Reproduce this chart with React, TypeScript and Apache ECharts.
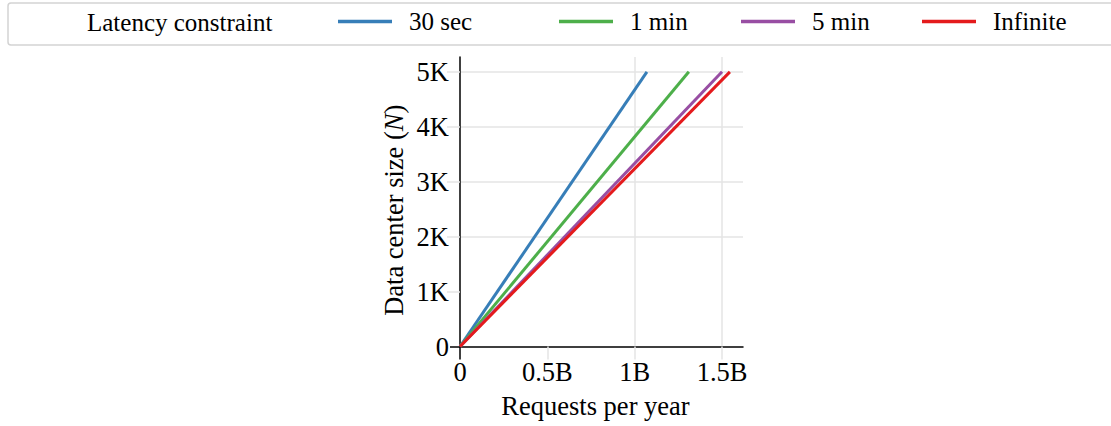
import React, { useEffect, useRef } from "react";
import * as echarts from "echarts";

const seriesNames = ["30 sec", "1 min", "5 min", "Infinite"];
const seriesColors = ["#377eb8", "#4daf4a", "#984ea3", "#e41a1c"];
// [requests per year, data center size N]
const line30sec = [[0, 0], [1.07e9, 5000]];
const line1min = [[0, 0], [1.31e9, 5000]];
const line5min = [[0, 0], [1.5e9, 5000]];
const lineInfinite = [[0, 0], [1.545e9, 5000]];
const xTicks = [0, 0.5e9, 1e9, 1.5e9];
const yTicks = [0, 1000, 2000, 3000, 4000, 5000];
const xMax = 1.62e9;
const yMax = 5270;
const legendTitle = "Latency constraint";

const FONT = "'Liberation Serif', 'Times New Roman', serif";
const LFONT = "serif";
const AX = 26.5;
const LG = 25;

export default function App() {
  const ref = useRef<HTMLDivElement>(null);
  useEffect(() => {
    document.body.style.margin = "0";
    const chart = echarts.init(ref.current!, null, { renderer: "svg" });
    const data = [line30sec, line1min, line5min, lineInfinite];
    const legendLeft = [338, 559, 741, 922];
    const fmtX = (v: number) => (v === 0 ? "0" : v / 1e9 + "B");
    const fmtY = (v: number) => (v === 0 ? "0" : v / 1000 + "K");
    const grey = "#e5e5e5";
    chart.setOption({
      animation: false,
      grid: { left: 460, top: 57, width: 283, height: 289.5, containLabel: false },
      title: {
        text: legendTitle,
        left: 7.5,
        top: 3,
        padding: [7, 855, 10.5, 79.5],
        borderColor: "#d3d3d3",
        borderWidth: 1.5,
        borderRadius: 3,
        textStyle: { fontFamily: LFONT, fontSize: LG, fontWeight: "normal", color: "#000" },
      },
      legend: seriesNames.map((n, i) => ({
        data: [n],
        left: legendLeft[i],
        top: 9,
        padding: 0,
        icon: "rect",
        itemWidth: 54,
        itemHeight: 3.5,
        selectedMode: false,
        z: 10,
        textStyle: { fontFamily: LFONT, fontSize: LG, color: "#000", padding: [0, 0, 0, 12] },
      })),
      xAxis: [
        {
          type: "value",
          min: 0,
          max: xMax,
          interval: 0.5e9,
          name: "Requests per year",
          nameLocation: "middle",
          nameGap: 46,
          nameTextStyle: { fontFamily: FONT, fontSize: AX, color: "#000", padding: [0, 12, 0, 0] },
          axisLine: { onZero: false, lineStyle: { color: "#000", width: 1.5 } },
          axisTick: { show: true, customValues: xTicks.slice(1), length: 13, lineStyle: { color: grey, width: 1.5 } },
          axisLabel: { customValues: xTicks, formatter: fmtX, margin: 12, fontFamily: FONT, fontSize: AX, color: "#000" },
          splitLine: { show: true, showMinLine: false, lineStyle: { color: grey, width: 1.5 } },
        },
        {
          type: "value",
          min: 0,
          max: xMax,
          position: "bottom",
          axisLine: { show: false, onZero: false },
          axisTick: { show: true, customValues: [0], length: 13, lineStyle: { color: "#000", width: 1.5 } },
          axisLabel: { show: false },
          splitLine: { show: false },
        },
      ],
      yAxis: [
        {
          type: "value",
          min: 0,
          max: yMax,
          interval: 1000,
          name: "Data center size ({i|N})",
          nameLocation: "middle",
          nameGap: 53,
          nameRotate: 90,
          nameTextStyle: {
            fontFamily: FONT,
            fontSize: AX,
            color: "#000",
            padding: [0, 17, 0, 0],
            rich: { i: { fontFamily: FONT, fontSize: AX, fontStyle: "italic", color: "#000" } },
          },
          axisLine: { onZero: false, lineStyle: { color: "#000", width: 1.5 } },
          axisTick: { show: true, customValues: yTicks.slice(1), length: 13, lineStyle: { color: grey, width: 1.5 } },
          axisLabel: { customValues: yTicks, formatter: fmtY, margin: 11, fontFamily: FONT, fontSize: AX, color: "#000" },
          splitLine: { show: true, showMinLine: false, lineStyle: { color: grey, width: 1.5 } },
        },
        {
          type: "value",
          min: 0,
          max: yMax,
          position: "left",
          axisLine: { show: false, onZero: false },
          axisTick: { show: true, customValues: [0], length: 10, lineStyle: { color: "#000", width: 1.5 } },
          axisLabel: { show: false },
          splitLine: { show: false },
        },
      ],
      series: seriesNames.map((n, i) => ({
        name: n,
        type: "line",
        xAxisIndex: 0,
        yAxisIndex: 0,
        data: data[i],
        showSymbol: false,
        symbol: "none",
        color: seriesColors[i],
        lineStyle: { color: seriesColors[i], width: 3 },
        z: 3 + i,
      })),
    });
    return () => chart.dispose();
  }, []);
  return <div ref={ref} style={{ width: 1111, height: 426 }} />;
}
